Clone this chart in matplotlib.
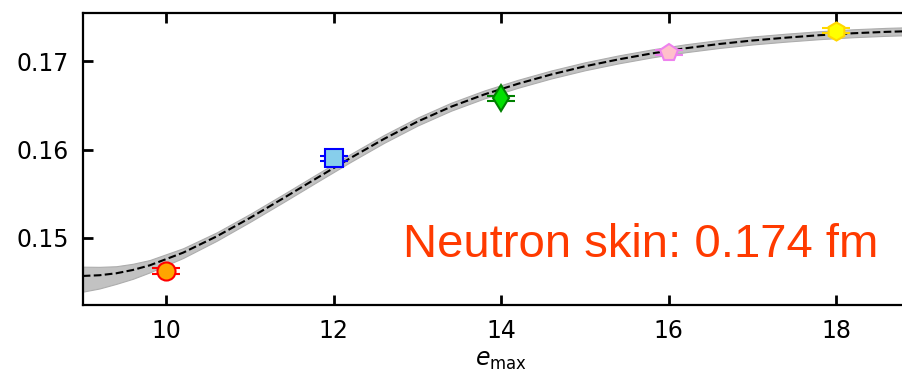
import matplotlib
matplotlib.use("Agg")
import matplotlib.pyplot as plt
import numpy as np

# Computed values per model-space truncation e_max
e_max = [10, 12, 14, 16, 18]
skin = [0.14626, 0.15903, 0.16582, 0.17099, 0.17348]
skin_err = [0.00033, 0.00030, 0.00030, 0.00030, 0.00030]

marker_shapes = ["o", "s", "d", "p", "h"]
face_colors = ["orange", "skyblue", "#00e000", "pink", "yellow"]
edge_colors = ["red", "blue", "green", "violet", "gold"]

# Extrapolation fit curve and its uncertainty band
fit_x = [9.0, 9.2, 9.4, 9.6, 9.8, 10.2, 10.6, 11.0, 11.4, 11.8, 12.2, 12.6,
         13.0, 13.4, 13.8, 14.2, 14.6, 15.0, 15.4, 15.8, 16.2, 16.6, 17.0,
         17.4, 17.8, 18.2, 18.6, 19.0]
fit_y = [0.14570, 0.14578, 0.14600, 0.14638, 0.14690, 0.14834, 0.15018, 0.15228,
         0.15452, 0.15680, 0.15906, 0.16122, 0.16318, 0.16486, 0.16626, 0.16746,
         0.16852, 0.16944, 0.17022, 0.17090, 0.17148, 0.17196, 0.17236, 0.17268,
         0.17296, 0.17318, 0.17334, 0.17345]
band_below = [0.00178, 0.00150, 0.00120, 0.00100, 0.00080, 0.00060, 0.00050] + [0.00045] * 21
band_above = [0.00105, 0.00095, 0.00080, 0.00070, 0.00060, 0.00050, 0.00045] + [0.00045] * 21

result_label = "Neutron skin: 0.174 fm"

fig = plt.figure(figsize=(9.02, 3.78), dpi=100)
ax = fig.add_axes([0.0917, 0.1931, 0.928, 0.7717])

fx = np.array(fit_x)
fy = np.array(fit_y)
ax.fill_between(fx, fy - np.array(band_below), fy + np.array(band_above),
                facecolor="0.76", edgecolor="0.68", linewidth=0.8, zorder=1)
ax.plot(fx, fy, color="black", linestyle="--", linewidth=1.5, zorder=2)

for x, y, err, m, fc, ec in zip(e_max, skin, skin_err, marker_shapes,
                                face_colors, edge_colors):
    ax.errorbar([x], [y], yerr=[err], fmt=m, markersize=13,
                markerfacecolor=fc, markeredgecolor=ec, markeredgewidth=1.5,
                ecolor=ec, elinewidth=1.5, capsize=10, capthick=1.5, zorder=3)

ax.set_xlim(9, 19)
ax.set_ylim(0.14241, 0.17544)
ax.set_xticks([10, 12, 14, 16, 18])
ax.set_yticks([0.15, 0.16, 0.17])
ax.set_yticklabels(["0.15", "0.16", "0.17"])
ax.tick_params(direction="in", top=True, right=True, length=7, width=2,
               labelsize=17, pad=10)
for s in ax.spines.values():
    s.set_linewidth(1.6)

ax.set_xlabel(r"$e_{\max}$", fontsize=17, labelpad=4)

fig.text(403 / 902, (378 - 256.7) / 378, result_label, color="#ff3a00",
         fontsize=34, family="Liberation Sans", ha="left", va="baseline")

fig.savefig("out.png", dpi=100)
